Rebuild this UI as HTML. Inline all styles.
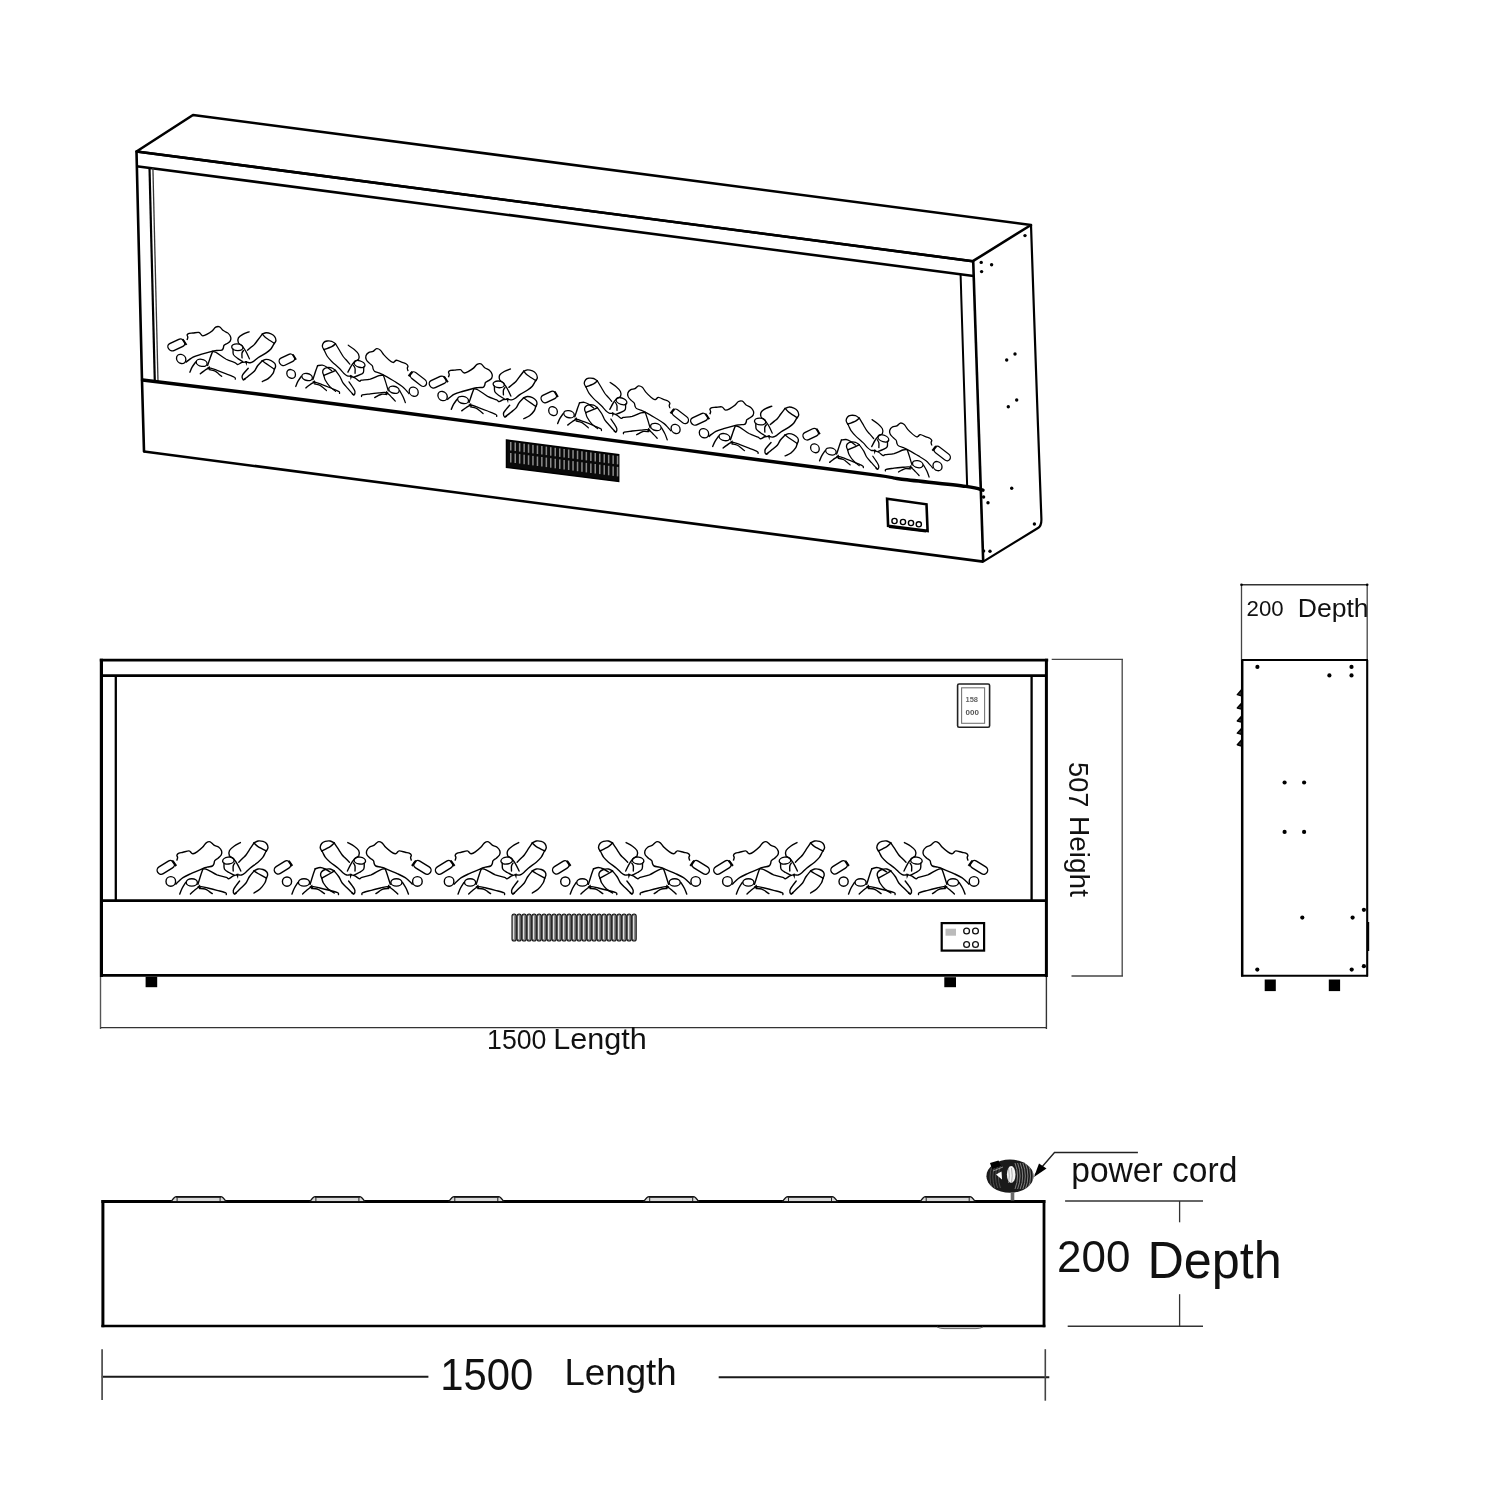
<!DOCTYPE html><html><head><meta charset="utf-8"><title>Fireplace dimensions</title><style>html,body{margin:0;padding:0;background:#fff;}svg{display:block;}text{font-family:"Liberation Sans",sans-serif;}svg{will-change:transform;}</style></head><body>
<svg width="1500" height="1500" viewBox="0 0 1500 1500">
<rect width="1500" height="1500" fill="#fff"/>
<defs><g id="logA"><rect x="156.3" y="863.4" width="19" height="8" rx="4" transform="rotate(-32 165.8 867.4)" fill="none" stroke="#000" stroke-width="1.4"/>
<path d="M172.2,860.6 L176.2,866" stroke="#000" stroke-width="2.2" fill="none"/>
<circle cx="170.8" cy="881.4" r="4.8" fill="none" stroke="#000" stroke-width="1.4"/>
<path d="M176.8,860.6 C176.9,860.1 177.6,858.5 177.6,857.6 C177.6,856.7 176.7,855.9 176.9,855.2 C177.1,854.5 178,853.7 179,853.2 C180,852.7 181.3,852.7 183,852.3 C184.7,851.9 187.6,850.8 189,850.9 C190.4,851 190.5,852.2 191.2,852.7 C191.9,853.2 192,853.9 193,853.8 C194,853.6 195.4,852.9 197,851.8 C198.6,850.7 201,848.8 202.5,847.3 C204,845.8 204.9,843.7 206.2,842.8 C207.5,841.9 208.9,841.4 210.2,841.8 C211.5,842.2 212.6,844.3 214,845.2 C215.4,846.1 217.5,846.2 218.8,847.2 C220.1,848.2 221.2,849.7 221.6,851 C222,852.3 221.8,853.8 221.2,855 C220.6,856.2 219.1,857.3 218,858.2 C216.9,859.1 215.5,859.7 214.8,860.6 C214.1,861.5 214.4,862.7 214,863.6 C213.6,864.5 213.6,865.4 212.4,866 C211.2,866.6 208.7,866.7 207,867.2 C205.3,867.7 204.9,867.7 202.2,868.8 C199.5,869.9 194.2,872.1 191,873.6 C187.8,875.1 185.1,876.3 183,877.6 C180.9,878.9 179.8,880.4 178.5,881.5 C177.2,882.6 176,884 175.5,884.5" fill="none" stroke="#000" stroke-width="1.4" stroke-linejoin="round"/>
<path d="M203,868.8 C202.6,870 201.3,873.4 200.5,876 C199.7,878.6 198.3,882.9 197.9,884.3" fill="none" stroke="#000" stroke-width="1.4" stroke-linejoin="round" stroke-linecap="round"/>
<path d="M203,868.8 C203.8,869 205.4,868.8 207.7,869.8 C210,870.8 213.9,873.6 217,874.9 C220.1,876.1 224.4,876.7 226.3,877.3 C228.2,877.9 227.5,878.9 228.7,878.7 C229.9,878.5 231.8,876.5 233.3,875.9 C234.9,875.3 236.6,875 238,874.9 C239.4,874.8 240.3,875.3 241.5,875 C242.7,874.7 243.6,874.1 245,873 C246.4,871.9 247.8,870 250,868.2 C252.2,866.4 255.9,864 258,862.2 C260.1,860.4 261.6,858.9 262.8,857.4 C264,855.9 264.6,854.1 265.2,853 C265.8,851.9 266.2,851 266.4,850.6" fill="none" stroke="#000" stroke-width="1.4" stroke-linejoin="round" stroke-linecap="round"/>
<path d="M238.8,862.2 C239.5,861.5 241.8,859.2 243,858 C244.2,856.8 245,856.3 246,855 C247,853.7 247.9,852.2 249.2,850.2 C250.5,848.2 253.2,844.2 254,843" fill="none" stroke="#000" stroke-width="1.4" stroke-linejoin="round" stroke-linecap="round"/>
<path d="M254,843 C254.7,842.7 256.5,841.3 258,841 C259.5,840.7 261.6,841 263,841.4 C264.4,841.8 265.7,842.5 266.5,843.5 C267.3,844.5 268,846.4 268,847.6 C268,848.9 266.7,850.4 266.4,851" fill="none" stroke="#000" stroke-width="1.4" stroke-linejoin="round" stroke-linecap="round"/>
<path d="M254,843 C254.7,843.6 255.9,845.3 258,846.6 C260.1,847.9 265,850.3 266.4,851" fill="none" stroke="#000" stroke-width="1.4" stroke-linejoin="round" stroke-linecap="round"/>
<path d="M224,863 C224.1,864 223.6,867.4 224.4,869 C225.2,870.6 227.4,871.5 229,872.5 C230.6,873.5 233.2,874.6 234,875" fill="none" stroke="#000" stroke-width="1.4" stroke-linejoin="round" stroke-linecap="round"/>
<path d="M234.8,863 C234.5,863.5 233.5,864.7 233.2,866 C232.9,867.3 233.2,870.2 233.2,871" fill="none" stroke="#000" stroke-width="1.4" stroke-linejoin="round" stroke-linecap="round"/>
<path d="M240.4,842.6 C239.3,843.2 235.8,844.9 234,846.2 C232.2,847.5 230.3,848.9 229.5,850.5 C228.7,852.1 228.8,854.2 229.4,855.6 C230.1,857 232.1,857.4 233.4,858.8 C234.7,860.2 236,861.8 237.2,863.8 C238.4,865.8 240.2,869.8 240.8,871" fill="none" stroke="#000" stroke-width="1.4" stroke-linejoin="round" stroke-linecap="round"/>
<path d="M254,871 C254.7,870.7 256.5,869.2 258,869 C259.5,868.8 261.5,869 263,869.5 C264.5,870 266,871 266.8,872 C267.6,873 267.7,874.2 267.6,875.2 C267.5,876.2 266.6,877.7 266.4,878.2" fill="none" stroke="#000" stroke-width="1.4" stroke-linejoin="round" stroke-linecap="round"/>
<path d="M254,871 C254.7,871.4 255.9,872.3 258,873.5 C260.1,874.7 265,877.4 266.4,878.2" fill="none" stroke="#000" stroke-width="1.4" stroke-linejoin="round" stroke-linecap="round"/>
<path d="M254,871 C253.2,872 250.5,875 249.2,877 C247.9,879 247.4,881.2 246,883 C244.6,884.8 242.3,886.7 241,888 C239.7,889.3 239,890 238,891 C237,892 235.3,893.3 234.8,893.8" fill="none" stroke="#000" stroke-width="1.4" stroke-linejoin="round" stroke-linecap="round"/>
<path d="M266.4,878.2 C266.1,879 265.9,881.2 264.8,883 C263.7,884.8 261.8,887.3 260,889 C258.2,890.7 255,892.3 254,893" fill="none" stroke="#000" stroke-width="1.4" stroke-linejoin="round" stroke-linecap="round"/>
<path d="M239.6,881 C238.9,881.9 236.8,884.6 235.7,886.1 C234.6,887.6 233.5,889 233.3,890.3 C233.1,891.6 233.8,893.5 234.3,894 C234.8,894.5 236,893.2 236.3,893" fill="none" stroke="#000" stroke-width="1.4" stroke-linejoin="round" stroke-linecap="round"/>
<path d="M185.7,882.4 C185.1,883.4 183,886.5 182,888.5 C181,890.5 180.1,893.2 179.7,894.1" fill="none" stroke="#000" stroke-width="1.4" stroke-linejoin="round" stroke-linecap="round"/>
<path d="M190.4,894.1 C191,893.5 192.8,891.8 194,890.8 C195.2,889.8 196.2,888.7 197.4,888 C198.6,887.3 199.4,886.6 201.1,886.6 C202.8,886.6 205,887.4 207.7,888 C210.3,888.6 214.1,889.5 217,890.3 C219.9,891.1 223.8,892 225.4,892.7 C227,893.4 226.2,894.2 226.3,894.5" fill="none" stroke="#000" stroke-width="1.4" stroke-linejoin="round" stroke-linecap="round"/>
<path d="M199.5,888.5 C200.4,888.6 203.4,888.5 205,889 C206.6,889.5 207.8,890.5 209,891.3 C210.2,892.1 211.8,893.2 212.3,893.6" fill="none" stroke="#000" stroke-width="1.4" stroke-linejoin="round" stroke-linecap="round"/>
<ellipse cx="228.4" cy="860.6" rx="5.8" ry="3.5" transform="rotate(-8 228.4 860.6)" fill="none" stroke="#000" stroke-width="1.4"/>
<ellipse cx="191.8" cy="882.4" rx="5.6" ry="3.7" fill="none" stroke="#000" stroke-width="1.4"/>
<path d="M197,887 L200,884.5 L201,888.5 Z" fill="#000"/>
<path d="M236,874 L238.5,873.5 L238,879 Z" fill="#000"/></g><g id="pillX"><rect x="273.5" y="863.4" width="18" height="8" rx="4" transform="rotate(-32 282.5 867.4)" fill="none" stroke="#000" stroke-width="1.4"/>
<path d="M288.6,860.8 L292.2,866" stroke="#000" stroke-width="2.2" fill="none"/>
<circle cx="287" cy="881.6" r="4.6" fill="none" stroke="#000" stroke-width="1.4"/>
<path d="M315.2,868.8 C314.8,870 313.5,873.4 312.7,876 C311.9,878.6 310.5,882.9 310.1,884.3" fill="none" stroke="#000" stroke-width="1.4" stroke-linejoin="round" stroke-linecap="round"/>
<path d="M297.9,882.4 C297.3,883.4 295.2,886.5 294.2,888.5 C293.2,890.5 292.3,893.2 291.9,894.1" fill="none" stroke="#000" stroke-width="1.4" stroke-linejoin="round" stroke-linecap="round"/>
<path d="M302.6,894.1 C303.2,893.5 305,891.8 306.2,890.8 C307.4,889.8 308.4,888.7 309.6,888 C310.8,887.3 311.6,886.6 313.3,886.6 C315,886.6 317.2,887.4 319.9,888 C322.5,888.6 326.2,889.5 329.2,890.3 C332.1,891.1 336.1,892 337.6,892.7 C339.2,893.4 338.4,894.2 338.5,894.5" fill="none" stroke="#000" stroke-width="1.4" stroke-linejoin="round" stroke-linecap="round"/>
<path d="M311.7,888.5 C312.6,888.6 315.6,888.5 317.2,889 C318.8,889.5 320,890.5 321.2,891.3 C322.4,892.1 323.9,893.2 324.5,893.6" fill="none" stroke="#000" stroke-width="1.4" stroke-linejoin="round" stroke-linecap="round"/>
<path d="M315.2,868.8 C316,868.6 318.5,867.5 320.2,867.5 C321.9,867.5 323.5,868.2 325.2,869 C326.9,869.8 329.4,871.5 330.2,872" fill="none" stroke="#000" stroke-width="1.4" stroke-linejoin="round" stroke-linecap="round"/>
<ellipse cx="304" cy="882.4" rx="5.6" ry="3.7" fill="none" stroke="#000" stroke-width="1.4"/>
<path d="M309.2,887 L312.2,884.5 L313.2,888.5 Z" fill="#000"/></g>
<g id="logAB"><use href="#logA"/><g transform="translate(588.2,0) scale(-1,1)"><use href="#logA"/></g><use href="#pillX"/></g>
</defs>
<path d="M136.5,151.5 L193,115 L1031,225 L972.8,261.2Z" stroke="#000" stroke-width="2.6" fill="none" stroke-linejoin="round" stroke-linecap="round" />
<line x1="136.5" y1="151.5" x2="972.8" y2="261.2" stroke="#000" stroke-width="2.6" />
<line x1="136.5" y1="166.2" x2="973.6" y2="276" stroke="#000" stroke-width="2.6" />
<path d="M136.5,151.5 L142,380.5 L144,451.5" stroke="#000" stroke-width="2.6" fill="none" stroke-linejoin="round" stroke-linecap="round" />
<line x1="973.2" y1="261" x2="983.2" y2="561.6" stroke="#000" stroke-width="2.6" />
<path d="M1031,225 C1031.8,249.2 1034.3,321 1036,370 C1037.7,419 1040.5,494.2 1041.4,519 Q1041.6,526 1038,528 L983.2,561.6" stroke="#000" stroke-width="2.2" fill="none" stroke-linejoin="round" stroke-linecap="round" />
<line x1="149.5" y1="167.5" x2="154.8" y2="381.5" stroke="#000" stroke-width="2.2" />
<line x1="152.9" y1="167.8" x2="158" y2="381.8" stroke="#333" stroke-width="1.3" />
<line x1="960.6" y1="275" x2="967.2" y2="487.5" stroke="#000" stroke-width="2.0" />
<path d="M142.5,380 C163.8,382.6 213.8,388.4 270,395.5 C326.2,402.6 411.7,413.9 480,422.9 C548.3,431.9 633.3,443.2 680,449.4 C726.7,455.6 726.7,455.6 760,460 C793.3,464.4 856.7,472.4 880,475.6 C903.3,478.8 885.7,477.2 900,479 C914.3,480.8 952.2,484.5 966,486.4 C979.8,488.3 980.2,489.6 983,490.2" stroke="#000" stroke-width="3.4" fill="none" stroke-linejoin="round" stroke-linecap="round" />
<line x1="144" y1="451.5" x2="983.2" y2="561.6" stroke="#000" stroke-width="2.6" />
<path d="M506.5,440 L618.7,454.7 L618.7,481.5 L506.5,467.3 Z" fill="#0a0a0a" stroke="#000" stroke-width="1.5"/>
<rect x="510" y="442" width="1.5" height="8.5" fill="#8a8a8a"/>
<rect x="510" y="453" width="1.5" height="9.5" fill="#8a8a8a"/>
<rect x="514.5" y="442.5" width="1.5" height="8.5" fill="#8a8a8a"/>
<rect x="514.5" y="453.5" width="1.5" height="9.5" fill="#8a8a8a"/>
<rect x="518.9" y="443.1" width="1.5" height="8.5" fill="#8a8a8a"/>
<rect x="518.9" y="454.1" width="1.5" height="9.5" fill="#8a8a8a"/>
<rect x="523.4" y="443.7" width="1.5" height="8.5" fill="#8a8a8a"/>
<rect x="523.4" y="454.7" width="1.5" height="9.5" fill="#8a8a8a"/>
<rect x="527.8" y="444.3" width="1.5" height="8.5" fill="#8a8a8a"/>
<rect x="527.8" y="455.3" width="1.5" height="9.5" fill="#8a8a8a"/>
<rect x="532.2" y="444.9" width="1.5" height="8.5" fill="#8a8a8a"/>
<rect x="532.2" y="455.9" width="1.5" height="9.5" fill="#8a8a8a"/>
<rect x="536.7" y="445.5" width="1.5" height="8.5" fill="#8a8a8a"/>
<rect x="536.7" y="456.5" width="1.5" height="9.5" fill="#8a8a8a"/>
<rect x="541.1" y="446" width="1.5" height="8.5" fill="#8a8a8a"/>
<rect x="541.1" y="457" width="1.5" height="9.5" fill="#8a8a8a"/>
<rect x="545.6" y="446.6" width="1.5" height="8.5" fill="#8a8a8a"/>
<rect x="545.6" y="457.6" width="1.5" height="9.5" fill="#8a8a8a"/>
<rect x="550" y="447.2" width="1.5" height="8.5" fill="#8a8a8a"/>
<rect x="550" y="458.2" width="1.5" height="9.5" fill="#8a8a8a"/>
<rect x="554.5" y="447.8" width="1.5" height="8.5" fill="#8a8a8a"/>
<rect x="554.5" y="458.8" width="1.5" height="9.5" fill="#8a8a8a"/>
<rect x="559" y="448.4" width="1.5" height="8.5" fill="#8a8a8a"/>
<rect x="559" y="459.4" width="1.5" height="9.5" fill="#8a8a8a"/>
<rect x="563.4" y="449" width="1.5" height="8.5" fill="#8a8a8a"/>
<rect x="563.4" y="460" width="1.5" height="9.5" fill="#8a8a8a"/>
<rect x="567.9" y="449.5" width="1.5" height="8.5" fill="#8a8a8a"/>
<rect x="567.9" y="460.5" width="1.5" height="9.5" fill="#8a8a8a"/>
<rect x="572.3" y="450.1" width="1.5" height="8.5" fill="#8a8a8a"/>
<rect x="572.3" y="461.1" width="1.5" height="9.5" fill="#8a8a8a"/>
<rect x="576.8" y="450.7" width="1.5" height="8.5" fill="#8a8a8a"/>
<rect x="576.8" y="461.7" width="1.5" height="9.5" fill="#8a8a8a"/>
<rect x="581.2" y="451.3" width="1.5" height="8.5" fill="#8a8a8a"/>
<rect x="581.2" y="462.3" width="1.5" height="9.5" fill="#8a8a8a"/>
<rect x="585.6" y="451.9" width="1.5" height="8.5" fill="#8a8a8a"/>
<rect x="585.6" y="462.9" width="1.5" height="9.5" fill="#8a8a8a"/>
<rect x="590.1" y="452.5" width="1.5" height="8.5" fill="#8a8a8a"/>
<rect x="590.1" y="463.5" width="1.5" height="9.5" fill="#8a8a8a"/>
<rect x="594.5" y="453" width="1.5" height="8.5" fill="#8a8a8a"/>
<rect x="594.5" y="464" width="1.5" height="9.5" fill="#8a8a8a"/>
<rect x="599" y="453.6" width="1.5" height="8.5" fill="#8a8a8a"/>
<rect x="599" y="464.6" width="1.5" height="9.5" fill="#8a8a8a"/>
<rect x="603.5" y="454.2" width="1.5" height="8.5" fill="#8a8a8a"/>
<rect x="603.5" y="465.2" width="1.5" height="9.5" fill="#8a8a8a"/>
<rect x="607.9" y="454.8" width="1.5" height="8.5" fill="#8a8a8a"/>
<rect x="607.9" y="465.8" width="1.5" height="9.5" fill="#8a8a8a"/>
<rect x="612.4" y="455.4" width="1.5" height="8.5" fill="#8a8a8a"/>
<rect x="612.4" y="466.4" width="1.5" height="9.5" fill="#8a8a8a"/>
<rect x="616.8" y="455.9" width="1.5" height="8.5" fill="#8a8a8a"/>
<rect x="616.8" y="466.9" width="1.5" height="9.5" fill="#8a8a8a"/>
<path d="M887.1,498.7 L926.5,504.3 L927.6,530.9 L888.1,525.9 Z" fill="none" stroke="#000" stroke-width="2.6"/>
<circle cx="894.5" cy="521" r="2.6" fill="none" stroke="#000" stroke-width="1.4"/>
<circle cx="903" cy="522" r="2.6" fill="none" stroke="#000" stroke-width="1.4"/>
<circle cx="911" cy="523" r="2.6" fill="none" stroke="#000" stroke-width="1.4"/>
<circle cx="918.8" cy="524.3" r="2.6" fill="none" stroke="#000" stroke-width="1.4"/>
<path d="M889,527 L926,531.5" stroke="#000" stroke-width="2"/>
<circle cx="1025" cy="235.6" r="1.7" fill="#000"/>
<circle cx="981.2" cy="262.4" r="1.7" fill="#000"/>
<circle cx="991.6" cy="264.8" r="1.7" fill="#000"/>
<circle cx="981.6" cy="271.6" r="1.7" fill="#000"/>
<circle cx="1015" cy="354" r="1.7" fill="#000"/>
<circle cx="1006.7" cy="360" r="1.7" fill="#000"/>
<circle cx="1016.7" cy="400" r="1.7" fill="#000"/>
<circle cx="1008.3" cy="406.7" r="1.7" fill="#000"/>
<circle cx="1011.7" cy="488.3" r="1.7" fill="#000"/>
<circle cx="988" cy="502.8" r="1.7" fill="#000"/>
<circle cx="983.6" cy="497" r="1.7" fill="#000"/>
<circle cx="1034.4" cy="524" r="1.7" fill="#000"/>
<circle cx="990" cy="551.2" r="1.7" fill="#000"/>
<circle cx="983.6" cy="551" r="1.7" fill="#000"/>
<g>
<g transform="matrix(0.9750,0.1400,0.0000,0.9500,14.657,-502.317)"><g transform="translate(0,0)"><use href="#logA"/></g></g>
<g transform="matrix(0.9400,0.1380,0.0000,0.9500,21.350,-503.215)"><g transform="translate(0,0)"><g transform="translate(588.2,0) scale(-1,1)"><use href="#logA"/></g><use href="#pillX"/></g></g>
<g transform="matrix(0.9750,0.1400,0.0000,0.9500,4.715,-504.129)"><g transform="translate(278.3,0)"><use href="#logA"/></g></g>
<g transform="matrix(0.9400,0.1380,0.0000,0.9500,21.648,-504.420)"><g transform="translate(278.3,0)"><g transform="translate(588.2,0) scale(-1,1)"><use href="#logA"/></g><use href="#pillX"/></g></g>
<g transform="matrix(0.9750,0.1400,0.0000,0.9500,-5.228,-505.941)"><g transform="translate(556.6,0)"><use href="#logA"/></g></g>
<g transform="matrix(0.9400,0.1380,0.0000,0.9500,21.946,-505.626)"><g transform="translate(556.6,0)"><g transform="translate(588.2,0) scale(-1,1)"><use href="#logA"/></g><use href="#pillX"/></g></g>
</g>
<line x1="99.8" y1="660.2" x2="1048.2" y2="660.2" stroke="#000" stroke-width="2.8" />
<line x1="101.2" y1="675.6" x2="1046.4" y2="675.6" stroke="#000" stroke-width="2.8" />
<line x1="101.4" y1="658.8" x2="101.4" y2="977" stroke="#000" stroke-width="3.2" />
<line x1="1046.4" y1="658.8" x2="1046.4" y2="977" stroke="#000" stroke-width="3.0" />
<line x1="115.8" y1="675.6" x2="115.8" y2="900.6" stroke="#000" stroke-width="2.3" />
<line x1="1031.6" y1="675.6" x2="1031.6" y2="900.6" stroke="#000" stroke-width="2.3" />
<line x1="101.2" y1="900.6" x2="1046.4" y2="900.6" stroke="#000" stroke-width="2.8" />
<line x1="101.2" y1="975.4" x2="1046.4" y2="975.4" stroke="#000" stroke-width="2.8" />
<rect x="145.6" y="976.8" width="11.6" height="10.4" fill="#000"/>
<rect x="944.3" y="977.2" width="11.7" height="10" fill="#000"/>
<g>
<rect x="512" y="914" width="4.2" height="27" rx="2.1" fill="#8c8c8c" stroke="#111" stroke-width="1.1"/>
<line x1="513.4" y1="916" x2="513.4" y2="939" stroke="#f2f2f2" stroke-width="0.9"/>
<rect x="517" y="914" width="4.2" height="27" rx="2.1" fill="#8c8c8c" stroke="#111" stroke-width="1.1"/>
<line x1="518.4" y1="916" x2="518.4" y2="939" stroke="#f2f2f2" stroke-width="0.9"/>
<rect x="522" y="914" width="4.2" height="27" rx="2.1" fill="#8c8c8c" stroke="#111" stroke-width="1.1"/>
<line x1="523.4" y1="916" x2="523.4" y2="939" stroke="#f2f2f2" stroke-width="0.9"/>
<rect x="527" y="914" width="4.2" height="27" rx="2.1" fill="#8c8c8c" stroke="#111" stroke-width="1.1"/>
<line x1="528.4" y1="916" x2="528.4" y2="939" stroke="#f2f2f2" stroke-width="0.9"/>
<rect x="532" y="914" width="4.2" height="27" rx="2.1" fill="#8c8c8c" stroke="#111" stroke-width="1.1"/>
<line x1="533.4" y1="916" x2="533.4" y2="939" stroke="#f2f2f2" stroke-width="0.9"/>
<rect x="537" y="914" width="4.2" height="27" rx="2.1" fill="#8c8c8c" stroke="#111" stroke-width="1.1"/>
<line x1="538.4" y1="916" x2="538.4" y2="939" stroke="#f2f2f2" stroke-width="0.9"/>
<rect x="542" y="914" width="4.2" height="27" rx="2.1" fill="#8c8c8c" stroke="#111" stroke-width="1.1"/>
<line x1="543.4" y1="916" x2="543.4" y2="939" stroke="#f2f2f2" stroke-width="0.9"/>
<rect x="547" y="914" width="4.2" height="27" rx="2.1" fill="#8c8c8c" stroke="#111" stroke-width="1.1"/>
<line x1="548.4" y1="916" x2="548.4" y2="939" stroke="#f2f2f2" stroke-width="0.9"/>
<rect x="552" y="914" width="4.2" height="27" rx="2.1" fill="#8c8c8c" stroke="#111" stroke-width="1.1"/>
<line x1="553.4" y1="916" x2="553.4" y2="939" stroke="#f2f2f2" stroke-width="0.9"/>
<rect x="557" y="914" width="4.2" height="27" rx="2.1" fill="#8c8c8c" stroke="#111" stroke-width="1.1"/>
<line x1="558.4" y1="916" x2="558.4" y2="939" stroke="#f2f2f2" stroke-width="0.9"/>
<rect x="562" y="914" width="4.2" height="27" rx="2.1" fill="#8c8c8c" stroke="#111" stroke-width="1.1"/>
<line x1="563.4" y1="916" x2="563.4" y2="939" stroke="#f2f2f2" stroke-width="0.9"/>
<rect x="567" y="914" width="4.2" height="27" rx="2.1" fill="#8c8c8c" stroke="#111" stroke-width="1.1"/>
<line x1="568.4" y1="916" x2="568.4" y2="939" stroke="#f2f2f2" stroke-width="0.9"/>
<rect x="572" y="914" width="4.2" height="27" rx="2.1" fill="#8c8c8c" stroke="#111" stroke-width="1.1"/>
<line x1="573.4" y1="916" x2="573.4" y2="939" stroke="#f2f2f2" stroke-width="0.9"/>
<rect x="577" y="914" width="4.2" height="27" rx="2.1" fill="#8c8c8c" stroke="#111" stroke-width="1.1"/>
<line x1="578.4" y1="916" x2="578.4" y2="939" stroke="#f2f2f2" stroke-width="0.9"/>
<rect x="582" y="914" width="4.2" height="27" rx="2.1" fill="#8c8c8c" stroke="#111" stroke-width="1.1"/>
<line x1="583.4" y1="916" x2="583.4" y2="939" stroke="#f2f2f2" stroke-width="0.9"/>
<rect x="587" y="914" width="4.2" height="27" rx="2.1" fill="#8c8c8c" stroke="#111" stroke-width="1.1"/>
<line x1="588.4" y1="916" x2="588.4" y2="939" stroke="#f2f2f2" stroke-width="0.9"/>
<rect x="592" y="914" width="4.2" height="27" rx="2.1" fill="#8c8c8c" stroke="#111" stroke-width="1.1"/>
<line x1="593.4" y1="916" x2="593.4" y2="939" stroke="#f2f2f2" stroke-width="0.9"/>
<rect x="597" y="914" width="4.2" height="27" rx="2.1" fill="#8c8c8c" stroke="#111" stroke-width="1.1"/>
<line x1="598.4" y1="916" x2="598.4" y2="939" stroke="#f2f2f2" stroke-width="0.9"/>
<rect x="602" y="914" width="4.2" height="27" rx="2.1" fill="#8c8c8c" stroke="#111" stroke-width="1.1"/>
<line x1="603.4" y1="916" x2="603.4" y2="939" stroke="#f2f2f2" stroke-width="0.9"/>
<rect x="607" y="914" width="4.2" height="27" rx="2.1" fill="#8c8c8c" stroke="#111" stroke-width="1.1"/>
<line x1="608.4" y1="916" x2="608.4" y2="939" stroke="#f2f2f2" stroke-width="0.9"/>
<rect x="612" y="914" width="4.2" height="27" rx="2.1" fill="#8c8c8c" stroke="#111" stroke-width="1.1"/>
<line x1="613.4" y1="916" x2="613.4" y2="939" stroke="#f2f2f2" stroke-width="0.9"/>
<rect x="617" y="914" width="4.2" height="27" rx="2.1" fill="#8c8c8c" stroke="#111" stroke-width="1.1"/>
<line x1="618.4" y1="916" x2="618.4" y2="939" stroke="#f2f2f2" stroke-width="0.9"/>
<rect x="622" y="914" width="4.2" height="27" rx="2.1" fill="#8c8c8c" stroke="#111" stroke-width="1.1"/>
<line x1="623.4" y1="916" x2="623.4" y2="939" stroke="#f2f2f2" stroke-width="0.9"/>
<rect x="627" y="914" width="4.2" height="27" rx="2.1" fill="#8c8c8c" stroke="#111" stroke-width="1.1"/>
<line x1="628.4" y1="916" x2="628.4" y2="939" stroke="#f2f2f2" stroke-width="0.9"/>
<rect x="632" y="914" width="4.2" height="27" rx="2.1" fill="#8c8c8c" stroke="#111" stroke-width="1.1"/>
<line x1="633.4" y1="916" x2="633.4" y2="939" stroke="#f2f2f2" stroke-width="0.9"/>
</g>
<rect x="941.7" y="923.1" width="42.4" height="27.5" fill="none" stroke="#000" stroke-width="2.2"/>
<circle cx="966.6" cy="931" r="2.9" fill="none" stroke="#111" stroke-width="1.3"/>
<circle cx="975.5" cy="931" r="2.9" fill="none" stroke="#111" stroke-width="1.3"/>
<circle cx="966.6" cy="944.5" r="2.9" fill="none" stroke="#111" stroke-width="1.3"/>
<circle cx="975.5" cy="944.5" r="2.9" fill="none" stroke="#111" stroke-width="1.3"/>
<rect x="945.5" y="928.7" width="10.5" height="7" fill="#bbb"/>
<rect x="957.6" y="684" width="32" height="43.3" rx="1.5" fill="none" stroke="#222" stroke-width="1.6"/>
<rect x="961.6" y="687.8" width="23" height="35.5" fill="none" stroke="#777" stroke-width="1.1"/>
<text x="965.5" y="701.5" font-size="7.5" font-weight="bold" fill="#666">158</text>
<text x="965.5" y="715" font-size="8" font-weight="bold" fill="#555">000</text>
<g transform="translate(0,0)"><use href="#logAB"/></g>
<g transform="translate(278.3,0)"><use href="#logAB"/></g>
<g transform="translate(556.6,0)"><use href="#logAB"/></g>
<line x1="100.5" y1="977" x2="100.5" y2="1029" stroke="#555" stroke-width="1.4" />
<line x1="1046.4" y1="977" x2="1046.4" y2="1029" stroke="#333" stroke-width="1.4" />
<line x1="100.6" y1="1027.6" x2="1046.4" y2="1027.6" stroke="#333" stroke-width="1.4" />
<text x="487.07" y="1048.80" font-size="27.94" fill="#111" textLength="59.28" lengthAdjust="spacingAndGlyphs">1500</text>
<text x="553.19" y="1048.70" font-size="28.92" fill="#111" textLength="93.51" lengthAdjust="spacingAndGlyphs">Length</text>
<line x1="1051.7" y1="659.4" x2="1123" y2="659.4" stroke="#444" stroke-width="1.3" />
<line x1="1071.5" y1="976" x2="1123" y2="976" stroke="#444" stroke-width="1.3" />
<line x1="1122.2" y1="659.4" x2="1122.2" y2="976" stroke="#444" stroke-width="1.3" />
<text transform="translate(1069.20,0) rotate(90)" x="762.12" y="0" font-size="28.51" fill="#111" textLength="45.15" lengthAdjust="spacingAndGlyphs">507</text>
<text transform="translate(1070.20,0) rotate(90)" x="815.90" y="0" font-size="27.62" fill="#111" textLength="81.09" lengthAdjust="spacingAndGlyphs">Height</text>
<line x1="1241.5" y1="584.7" x2="1367.2" y2="584.7" stroke="#333" stroke-width="1.6" />
<line x1="1241.5" y1="584.7" x2="1241.5" y2="660" stroke="#444" stroke-width="1.3" />
<line x1="1367.2" y1="584.7" x2="1367.2" y2="660" stroke="#444" stroke-width="1.3" />
<circle cx="1241.5" cy="584.7" r="1.3" fill="#000"/>
<circle cx="1367.2" cy="584.7" r="1.3" fill="#000"/>
<text x="1246.59" y="616.30" font-size="21.49" fill="#111" textLength="37.09" lengthAdjust="spacingAndGlyphs">200</text>
<text x="1297.72" y="616.80" font-size="26.45" fill="#111" textLength="70.92" lengthAdjust="spacingAndGlyphs">Depth</text>
<line x1="1241.5" y1="660.1" x2="1368" y2="660.1" stroke="#000" stroke-width="2.0" />
<line x1="1242.2" y1="660.1" x2="1242.2" y2="976.5" stroke="#000" stroke-width="2.5" />
<line x1="1367.2" y1="660.1" x2="1367.2" y2="976.5" stroke="#000" stroke-width="2.1" />
<line x1="1241" y1="975.7" x2="1368" y2="975.7" stroke="#000" stroke-width="2.1" />
<line x1="1368.6" y1="922" x2="1368.6" y2="951" stroke="#000" stroke-width="1.2" />
<path d="M1241.5,689.8 L1237.3,694.6 L1241.5,695.8 Z" fill="#333" stroke="#000" stroke-width="1.4" stroke-linejoin="round"/>
<path d="M1241.5,703.2 L1237.3,708 L1241.5,709.2 Z" fill="#333" stroke="#000" stroke-width="1.4" stroke-linejoin="round"/>
<path d="M1241.5,716.2 L1237.3,721 L1241.5,722.2 Z" fill="#333" stroke="#000" stroke-width="1.4" stroke-linejoin="round"/>
<path d="M1241.5,728.4 L1237.3,733.2 L1241.5,734.4 Z" fill="#333" stroke="#000" stroke-width="1.4" stroke-linejoin="round"/>
<path d="M1241.5,740 L1237.3,744.8 L1241.5,746 Z" fill="#333" stroke="#000" stroke-width="1.4" stroke-linejoin="round"/>
<rect x="1264.7" y="979.5" width="11.1" height="11.6" fill="#000"/>
<rect x="1328.8" y="979.5" width="11.3" height="11.6" fill="#000"/>
<circle cx="1257.4" cy="666.9" r="2.1" fill="#000"/>
<circle cx="1329.4" cy="675.4" r="2.1" fill="#000"/>
<circle cx="1351.5" cy="666.9" r="2.1" fill="#000"/>
<circle cx="1351.5" cy="675.4" r="2.1" fill="#000"/>
<circle cx="1284.6" cy="782.5" r="2.1" fill="#000"/>
<circle cx="1304.1" cy="782.5" r="2.1" fill="#000"/>
<circle cx="1284.6" cy="831.9" r="2.1" fill="#000"/>
<circle cx="1304.1" cy="831.9" r="2.1" fill="#000"/>
<circle cx="1302.3" cy="917.6" r="2.1" fill="#000"/>
<circle cx="1352.6" cy="917.6" r="2.1" fill="#000"/>
<circle cx="1363.9" cy="909.8" r="2.1" fill="#000"/>
<circle cx="1257.3" cy="969.6" r="2.1" fill="#000"/>
<circle cx="1351.7" cy="969.6" r="2.1" fill="#000"/>
<circle cx="1363.9" cy="966.2" r="2.1" fill="#000"/>
<line x1="101.4" y1="1201.6" x2="1045.4" y2="1201.6" stroke="#000" stroke-width="3" />
<line x1="101.4" y1="1326" x2="1045.4" y2="1326" stroke="#000" stroke-width="2.5" />
<line x1="102.9" y1="1200.1" x2="102.9" y2="1327.2" stroke="#000" stroke-width="3" />
<line x1="1044" y1="1200.1" x2="1044" y2="1327.2" stroke="#000" stroke-width="2.8" />
<path d="M171.1,1201.6 Q174.3,1196.6 176.5,1196.6 L220.7,1196.6 Q222.9,1196.6 226.1,1201.6 Z" fill="#d8d8d8" stroke="#111" stroke-width="1.3" stroke-linejoin="round"/>
<line x1="176.1" y1="1197.5" x2="221.1" y2="1197.5" stroke="#333" stroke-width="1"/>
<line x1="177.1" y1="1197.5" x2="177.1" y2="1201" stroke="#222" stroke-width="1"/>
<line x1="220.1" y1="1197.5" x2="220.1" y2="1201" stroke="#222" stroke-width="1"/>
<path d="M309.9,1201.6 Q313.1,1196.6 315.3,1196.6 L359.5,1196.6 Q361.7,1196.6 364.9,1201.6 Z" fill="#d8d8d8" stroke="#111" stroke-width="1.3" stroke-linejoin="round"/>
<line x1="314.9" y1="1197.5" x2="359.9" y2="1197.5" stroke="#333" stroke-width="1"/>
<line x1="315.9" y1="1197.5" x2="315.9" y2="1201" stroke="#222" stroke-width="1"/>
<line x1="358.9" y1="1197.5" x2="358.9" y2="1201" stroke="#222" stroke-width="1"/>
<path d="M448.8,1201.6 Q452,1196.6 454.2,1196.6 L498.4,1196.6 Q500.6,1196.6 503.8,1201.6 Z" fill="#d8d8d8" stroke="#111" stroke-width="1.3" stroke-linejoin="round"/>
<line x1="453.8" y1="1197.5" x2="498.8" y2="1197.5" stroke="#333" stroke-width="1"/>
<line x1="454.8" y1="1197.5" x2="454.8" y2="1201" stroke="#222" stroke-width="1"/>
<line x1="497.8" y1="1197.5" x2="497.8" y2="1201" stroke="#222" stroke-width="1"/>
<path d="M643.7,1201.6 Q646.9,1196.6 649.1,1196.6 L693.3,1196.6 Q695.5,1196.6 698.7,1201.6 Z" fill="#d8d8d8" stroke="#111" stroke-width="1.3" stroke-linejoin="round"/>
<line x1="648.7" y1="1197.5" x2="693.7" y2="1197.5" stroke="#333" stroke-width="1"/>
<line x1="649.7" y1="1197.5" x2="649.7" y2="1201" stroke="#222" stroke-width="1"/>
<line x1="692.7" y1="1197.5" x2="692.7" y2="1201" stroke="#222" stroke-width="1"/>
<path d="M782.5,1201.6 Q785.7,1196.6 787.9,1196.6 L832.1,1196.6 Q834.3,1196.6 837.5,1201.6 Z" fill="#d8d8d8" stroke="#111" stroke-width="1.3" stroke-linejoin="round"/>
<line x1="787.5" y1="1197.5" x2="832.5" y2="1197.5" stroke="#333" stroke-width="1"/>
<line x1="788.5" y1="1197.5" x2="788.5" y2="1201" stroke="#222" stroke-width="1"/>
<line x1="831.5" y1="1197.5" x2="831.5" y2="1201" stroke="#222" stroke-width="1"/>
<path d="M920.2,1201.6 Q923.4,1196.6 925.6,1196.6 L969.8,1196.6 Q972,1196.6 975.2,1201.6 Z" fill="#d8d8d8" stroke="#111" stroke-width="1.3" stroke-linejoin="round"/>
<line x1="925.2" y1="1197.5" x2="970.2" y2="1197.5" stroke="#333" stroke-width="1"/>
<line x1="926.2" y1="1197.5" x2="926.2" y2="1201" stroke="#222" stroke-width="1"/>
<line x1="969.2" y1="1197.5" x2="969.2" y2="1201" stroke="#222" stroke-width="1"/>
<path d="M937,1327 Q940,1328.6 944,1328.6 L976,1328.6 Q980,1328.6 983,1327" fill="none" stroke="#666" stroke-width="1"/>
<g>
<clipPath id="coilclip"><ellipse cx="1010" cy="1176.2" rx="23.6" ry="16.6"/></clipPath>
<ellipse cx="1010" cy="1176.2" rx="23.6" ry="16.6" fill="#1a1a1a"/>
<g clip-path="url(#coilclip)">
<path d="M1015,1163 Q1020,1176 1015,1189" fill="none" stroke="#9a9a9a" stroke-width="0.8"/>
<path d="M1017.6,1163 Q1022.6,1176 1017.6,1189" fill="none" stroke="#9a9a9a" stroke-width="0.8"/>
<path d="M1020.2,1163 Q1025.2,1176 1020.2,1189" fill="none" stroke="#9a9a9a" stroke-width="0.8"/>
<path d="M1022.8,1163 Q1027.8,1176 1022.8,1189" fill="none" stroke="#9a9a9a" stroke-width="0.8"/>
<path d="M1025.4,1163 Q1030.4,1176 1025.4,1189" fill="none" stroke="#9a9a9a" stroke-width="0.8"/>
<path d="M1028,1163 Q1033,1176 1028,1189" fill="none" stroke="#9a9a9a" stroke-width="0.8"/>
<path d="M1030.6,1163 Q1035.6,1176 1030.6,1189" fill="none" stroke="#9a9a9a" stroke-width="0.8"/>
<path d="M992,1166 Q988,1177 992,1188" fill="none" stroke="#666" stroke-width="0.7"/>
<path d="M994.8,1166 Q990.8,1177 994.8,1188" fill="none" stroke="#666" stroke-width="0.7"/>
<path d="M997.6,1166 Q993.6,1177 997.6,1188" fill="none" stroke="#666" stroke-width="0.7"/>
<path d="M1000.4,1166 Q996.4,1177 1000.4,1188" fill="none" stroke="#666" stroke-width="0.7"/>
</g>
<ellipse cx="1011.2" cy="1174.5" rx="4.3" ry="8.5" fill="#f4f4f4"/>
<path d="M1008.6,1168 Q1010,1176 1008.6,1183 M1011.5,1168 Q1013,1176 1011.5,1183" fill="none" stroke="#999" stroke-width="0.8"/>
<path d="M996,1174.5 L1001.5,1171.5 L1002,1179.5 Z" fill="#fff"/>
<path d="M990,1163 L998.5,1160.5 L1001,1166 L992,1169 Z" fill="#000"/>
<path d="M993,1171 L1003,1167" stroke="#aaa" stroke-width="0.8"/>
</g>
<line x1="1012.5" y1="1192" x2="1012.5" y2="1200.5" stroke="#6a6a6a" stroke-width="3.6" />
<path d="M1137.9,1152.5 L1054.5,1152.5 L1035,1175" fill="none" stroke="#222" stroke-width="1.4"/>
<path d="M1034,1177 L1039,1163.5 L1046.5,1168.5 Z" fill="#000"/>
<text x="1071.25" y="1182.20" font-size="34.21" fill="#111" textLength="166.09" lengthAdjust="spacingAndGlyphs">power cord</text>
<line x1="1065.1" y1="1201" x2="1203" y2="1201" stroke="#333" stroke-width="1.4" />
<line x1="1067.7" y1="1326.3" x2="1203" y2="1326.3" stroke="#333" stroke-width="1.4" />
<line x1="1179.6" y1="1201" x2="1179.6" y2="1222.3" stroke="#333" stroke-width="1.3" />
<line x1="1179.6" y1="1294.2" x2="1179.6" y2="1326.3" stroke="#333" stroke-width="1.3" />
<text x="1057.10" y="1271.90" font-size="43.98" fill="#111" textLength="73.33" lengthAdjust="spacingAndGlyphs">200</text>
<text x="1147.47" y="1278.00" font-size="51.16" fill="#111" textLength="134.32" lengthAdjust="spacingAndGlyphs">Depth</text>
<line x1="101.7" y1="1376.8" x2="428.4" y2="1376.8" stroke="#1a1a1a" stroke-width="2.0" />
<line x1="718.7" y1="1377.2" x2="1049.3" y2="1377.2" stroke="#1a1a1a" stroke-width="2.0" />
<line x1="102.1" y1="1349.3" x2="102.1" y2="1400" stroke="#555" stroke-width="1.8" />
<line x1="1045.3" y1="1349.2" x2="1045.3" y2="1400.7" stroke="#444" stroke-width="1.6" />
<text x="440.32" y="1389.70" font-size="43.70" fill="#111" textLength="93.04" lengthAdjust="spacingAndGlyphs">1500</text>
<text x="564.49" y="1385.30" font-size="36.77" fill="#111" textLength="112.11" lengthAdjust="spacingAndGlyphs">Length</text>
</svg></body></html>
